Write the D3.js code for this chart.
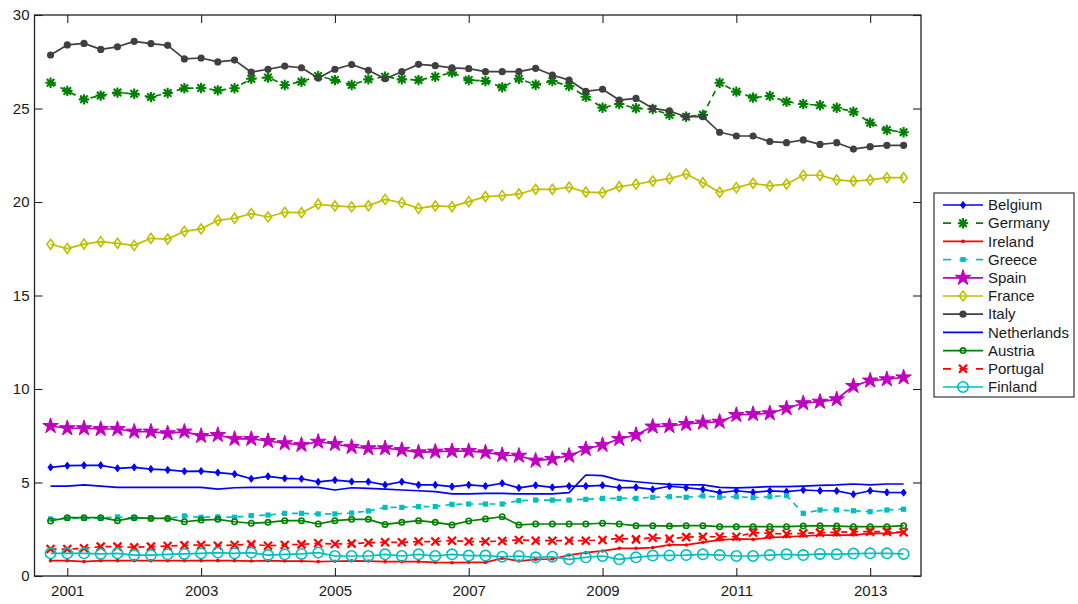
<!DOCTYPE html>
<html>
<head>
<meta charset="utf-8">
<script src="https://cdn.jsdelivr.net/npm/d3@7"></script>
<style>
  body { margin: 0; background: #fff; }
  text { font-family: "Liberation Sans", Arial, Helvetica, sans-serif; fill: #1a1a1a; }
</style>
</head>
<body>
<svg id="chart" width="1078" height="604"></svg>
<script>
// Quarterly observations, first quarter at 2000.75
const firstQuarter = 2000.75;
const xTickYears = [2001, 2003, 2005, 2007, 2009, 2011, 2013];
const yTickValues = [0, 5, 10, 15, 20, 25, 30];
const countries = ["Belgium", "Germany", "Ireland", "Greece", "Spain", "France",
                   "Italy", "Netherlands", "Austria", "Portugal", "Finland"];

const belgium = [5.81, 5.90, 5.92, 5.92, 5.76, 5.81, 5.72, 5.67, 5.60, 5.61, 5.53, 5.45, 5.20, 5.33, 5.22, 5.20, 5.03, 5.13, 5.05, 5.04, 4.87, 5.04, 4.87, 4.87, 4.78, 4.87, 4.81, 4.96, 4.71, 4.85, 4.74, 4.81, 4.81, 4.85, 4.72, 4.74, 4.63, 4.80, 4.72, 4.63, 4.46, 4.56, 4.47, 4.55, 4.51, 4.60, 4.56, 4.55, 4.37, 4.56, 4.47, 4.46];
const germany = [26.38, 25.94, 25.49, 25.69, 25.85, 25.79, 25.61, 25.83, 26.08, 26.10, 25.97, 26.08, 26.59, 26.66, 26.26, 26.43, 26.74, 26.52, 26.26, 26.56, 26.70, 26.56, 26.52, 26.70, 26.92, 26.52, 26.47, 26.13, 26.59, 26.27, 26.47, 26.20, 25.63, 25.04, 25.24, 25.01, 24.97, 24.66, 24.56, 24.66, 26.38, 25.90, 25.58, 25.67, 25.36, 25.24, 25.17, 25.04, 24.83, 24.24, 23.85, 23.73];
const ireland = [0.82, 0.82, 0.77, 0.82, 0.82, 0.82, 0.82, 0.82, 0.82, 0.82, 0.82, 0.82, 0.80, 0.82, 0.80, 0.80, 0.77, 0.79, 0.81, 0.80, 0.77, 0.77, 0.77, 0.73, 0.71, 0.73, 0.73, 0.95, 0.80, 0.89, 0.91, 1.12, 1.25, 1.34, 1.48, 1.48, 1.52, 1.66, 1.66, 1.80, 1.93, 1.98, 1.96, 2.05, 2.10, 2.14, 2.19, 2.19, 2.19, 2.28, 2.28, 2.34];
const greece = [3.05, 3.08, 3.08, 3.10, 3.16, 3.10, 3.10, 3.08, 3.21, 3.14, 3.16, 3.14, 3.23, 3.26, 3.35, 3.35, 3.32, 3.32, 3.37, 3.48, 3.67, 3.67, 3.71, 3.71, 3.83, 3.85, 3.85, 3.85, 4.03, 4.06, 4.06, 4.06, 4.10, 4.15, 4.15, 4.15, 4.21, 4.24, 4.21, 4.28, 4.21, 4.24, 4.19, 4.24, 4.30, 3.35, 3.53, 3.53, 3.49, 3.44, 3.53, 3.57];
const spain = [8.02, 7.90, 7.90, 7.86, 7.86, 7.72, 7.72, 7.63, 7.72, 7.49, 7.54, 7.33, 7.33, 7.22, 7.10, 7.01, 7.18, 7.06, 6.90, 6.83, 6.83, 6.74, 6.61, 6.65, 6.68, 6.68, 6.61, 6.47, 6.43, 6.17, 6.26, 6.43, 6.79, 7.01, 7.33, 7.54, 7.99, 8.02, 8.13, 8.20, 8.25, 8.61, 8.66, 8.70, 8.97, 9.24, 9.32, 9.45, 10.16, 10.45, 10.52, 10.62];
const france = [17.74, 17.51, 17.75, 17.88, 17.79, 17.68, 18.06, 18.02, 18.43, 18.56, 19.02, 19.13, 19.38, 19.20, 19.45, 19.43, 19.88, 19.79, 19.74, 19.80, 20.14, 19.96, 19.66, 19.79, 19.75, 20.02, 20.29, 20.34, 20.43, 20.68, 20.68, 20.79, 20.53, 20.50, 20.82, 20.95, 21.12, 21.25, 21.50, 21.03, 20.52, 20.77, 21.00, 20.86, 20.96, 21.43, 21.43, 21.18, 21.12, 21.18, 21.30, 21.30];
const italy = [27.86, 28.40, 28.48, 28.16, 28.30, 28.59, 28.47, 28.38, 27.65, 27.70, 27.49, 27.59, 26.94, 27.10, 27.27, 27.18, 26.63, 27.10, 27.35, 27.04, 26.59, 26.97, 27.36, 27.29, 27.17, 27.13, 26.97, 26.97, 26.97, 27.15, 26.79, 26.52, 25.92, 26.03, 25.45, 25.54, 25.01, 24.87, 24.56, 24.56, 23.73, 23.53, 23.53, 23.23, 23.17, 23.32, 23.08, 23.17, 22.83, 22.96, 23.03, 23.03];
const netherlands = [4.81, 4.81, 4.87, 4.81, 4.74, 4.74, 4.74, 4.74, 4.74, 4.74, 4.65, 4.72, 4.74, 4.74, 4.74, 4.74, 4.74, 4.60, 4.72, 4.69, 4.65, 4.60, 4.56, 4.51, 4.39, 4.39, 4.42, 4.42, 4.39, 4.39, 4.39, 4.46, 5.40, 5.37, 5.13, 5.04, 4.96, 4.90, 4.88, 4.87, 4.74, 4.71, 4.74, 4.78, 4.78, 4.81, 4.85, 4.87, 4.92, 4.87, 4.92, 4.92];
const austria = [2.94, 3.12, 3.12, 3.12, 2.96, 3.12, 3.08, 3.08, 2.90, 2.99, 3.03, 2.90, 2.82, 2.87, 2.96, 2.96, 2.78, 2.96, 3.03, 3.03, 2.76, 2.87, 2.96, 2.87, 2.73, 2.94, 3.05, 3.17, 2.73, 2.78, 2.78, 2.78, 2.78, 2.82, 2.78, 2.69, 2.69, 2.67, 2.69, 2.69, 2.64, 2.64, 2.64, 2.64, 2.64, 2.67, 2.69, 2.67, 2.64, 2.64, 2.64, 2.69];
const portugal = [1.44, 1.44, 1.48, 1.57, 1.57, 1.53, 1.57, 1.60, 1.64, 1.66, 1.62, 1.66, 1.69, 1.62, 1.66, 1.69, 1.75, 1.71, 1.73, 1.78, 1.80, 1.80, 1.84, 1.84, 1.89, 1.84, 1.84, 1.87, 1.93, 1.89, 1.89, 1.89, 1.89, 1.93, 2.01, 1.96, 2.05, 1.99, 2.08, 2.10, 2.10, 2.10, 2.32, 2.28, 2.25, 2.28, 2.32, 2.34, 2.37, 2.37, 2.37, 2.34];
const finland = [1.21, 1.21, 1.21, 1.18, 1.21, 1.12, 1.12, 1.16, 1.18, 1.21, 1.25, 1.21, 1.25, 1.12, 1.16, 1.18, 1.25, 1.07, 1.07, 1.07, 1.16, 1.07, 1.16, 1.07, 1.16, 1.09, 1.09, 1.03, 1.07, 1.00, 1.03, 0.89, 1.00, 1.07, 0.89, 1.00, 1.09, 1.10, 1.12, 1.16, 1.12, 1.07, 1.07, 1.12, 1.16, 1.12, 1.18, 1.16, 1.20, 1.21, 1.21, 1.18];

const seriesValues = [belgium, germany, ireland, greece, spain, france,
                      italy, netherlands, austria, portugal, finland];

// Line and marker styling per country (same order as countries)
const styles = [
  { color: "#0000ff", dash: null,  marker: "diamondFilled" },
  { color: "#008000", dash: "6,5", marker: "asterisk" },
  { color: "#ff0000", dash: null,  marker: "dot" },
  { color: "#00bfbf", dash: "6,5", marker: "square" },
  { color: "#bf00bf", dash: null,  marker: "star" },
  { color: "#bfbf00", dash: null,  marker: "diamondOpen" },
  { color: "#404040", dash: null,  marker: "circleFilled" },
  { color: "#0000ff", dash: null,  marker: null },
  { color: "#008000", dash: null,  marker: "circleSmall" },
  { color: "#ff0000", dash: "6,5", marker: "cross" },
  { color: "#00bfbf", dash: null,  marker: "circleOpen" }
];

const svg = d3.select("#chart");
const plot = { left: 34.5, right: 921, top: 15, bottom: 576 };

const x = d3.scaleLinear().domain([2000.51, 2013.76]).range([plot.left, plot.right]);
const y = d3.scaleLinear().domain([0, 30]).range([plot.bottom, plot.top]);

const lineGen = d3.line().x(d => x(d.t)).y(d => y(d.v));

function drawMarker(g, type, color, cx, cy) {
  const sw = 1.6;
  switch (type) {
    case "diamondFilled":
      g.append("path").attr("d", `M${cx},${cy-3.6}L${cx+2.5},${cy}L${cx},${cy+3.6}L${cx-2.5},${cy}Z`)
        .attr("fill", color).attr("stroke", color).attr("stroke-width", 1);
      break;
    case "diamondOpen":
      g.append("path").attr("d", `M${cx},${cy-5}L${cx+3.6},${cy}L${cx},${cy+5}L${cx-3.6},${cy}Z`)
        .attr("fill", "none").attr("stroke", color).attr("stroke-width", sw);
      break;
    case "asterisk": {
      const r = 5.2, q = r * 0.72;
      g.append("path")
        .attr("d", `M${cx-r},${cy}L${cx+r},${cy}M${cx},${cy-r}L${cx},${cy+r}` +
                   `M${cx-q},${cy-q}L${cx+q},${cy+q}M${cx-q},${cy+q}L${cx+q},${cy-q}`)
        .attr("stroke", color).attr("stroke-width", 2.1).attr("fill", "none");
      break;
    }
    case "dot":
      g.append("circle").attr("cx", cx).attr("cy", cy).attr("r", 1.8).attr("fill", color);
      break;
    case "square":
      g.append("rect").attr("x", cx - 2.6).attr("y", cy - 2.6).attr("width", 5.2).attr("height", 5.2)
        .attr("fill", color);
      break;
    case "star":
      g.append("path").attr("d", d3.symbol(d3.symbolStar, 75)())
        .attr("transform", `translate(${cx},${cy})`)
        .attr("fill", color).attr("stroke", color).attr("stroke-width", 1);
      break;
    case "circleFilled":
      g.append("circle").attr("cx", cx).attr("cy", cy).attr("r", 3.6).attr("fill", color);
      break;
    case "circleSmall":
      g.append("circle").attr("cx", cx).attr("cy", cy).attr("r", 2.7)
        .attr("fill", "none").attr("stroke", color).attr("stroke-width", sw);
      break;
    case "cross": {
      const r = 4;
      g.append("path")
        .attr("d", `M${cx-r},${cy-r}L${cx+r},${cy+r}M${cx-r},${cy+r}L${cx+r},${cy-r}`)
        .attr("stroke", color).attr("stroke-width", 2.2).attr("fill", "none");
      break;
    }
    case "circleOpen":
      g.append("circle").attr("cx", cx).attr("cy", cy).attr("r", 5.2)
        .attr("fill", "none").attr("stroke", color).attr("stroke-width", sw);
      break;
  }
}

// Series lines and markers
const plotArea = svg.append("g");
seriesValues.forEach((vals, k) => {
  const st = styles[k];
  const pts = vals.map((v, i) => ({ t: firstQuarter + i * 0.25, v }));
  const g = plotArea.append("g").attr("class", "series");
  g.append("path").datum(pts)
    .attr("d", lineGen)
    .attr("fill", "none")
    .attr("stroke", st.color)
    .attr("stroke-width", 1.7)
    .attr("stroke-linejoin", "round")
    .attr("stroke-dasharray", st.dash);
  if (st.marker) pts.forEach(p => drawMarker(g, st.marker, st.color, x(p.t), y(p.v)));
});

// Axes box with inward ticks on all four sides
const axisColor = "#222";
const tickLen = 8;
const axes = svg.append("g");
axes.append("rect")
  .attr("x", plot.left).attr("y", plot.top)
  .attr("width", plot.right - plot.left).attr("height", plot.bottom - plot.top)
  .attr("fill", "none").attr("stroke", axisColor).attr("stroke-width", 1.3);

const bottomAxis = d3.axisBottom(x).tickValues(xTickYears).tickFormat(d3.format("d"))
  .tickSizeInner(-tickLen).tickSizeOuter(0).tickPadding(9);
const topAxis = d3.axisTop(x).tickValues(xTickYears).tickFormat("")
  .tickSizeInner(-tickLen).tickSizeOuter(0);
const leftAxis = d3.axisLeft(y).tickValues(yTickValues).tickFormat(d3.format("d"))
  .tickSizeInner(-tickLen).tickSizeOuter(0).tickPadding(5);
const rightAxis = d3.axisRight(y).tickValues(yTickValues).tickFormat("")
  .tickSizeInner(-tickLen).tickSizeOuter(0);

function styleAxis(sel) {
  sel.select(".domain").remove();
  sel.selectAll(".tick line").attr("stroke", axisColor).attr("stroke-width", 1.1);
  sel.selectAll(".tick text").attr("font-size", 15).attr("fill", "#1a1a1a")
    .style("font-family", '"Liberation Sans", Arial, sans-serif');
}
axes.append("g").attr("transform", `translate(0,${plot.bottom})`).call(bottomAxis).call(styleAxis);
axes.append("g").attr("transform", `translate(0,${plot.top})`).call(topAxis).call(styleAxis);
axes.append("g").attr("transform", `translate(${plot.left},0)`).call(leftAxis).call(styleAxis);
axes.append("g").attr("transform", `translate(${plot.right},0)`).call(rightAxis).call(styleAxis);

// Legend
const legend = svg.append("g");
const lg = { x: 934, y: 193, w: 140, h: 204, row: 18.2, first: 205 };
legend.append("rect").attr("x", lg.x).attr("y", lg.y).attr("width", lg.w).attr("height", lg.h)
  .attr("fill", "#fff").attr("stroke", axisColor).attr("stroke-width", 1.1);
countries.forEach((name, k) => {
  const st = styles[k];
  const cy = lg.first + k * lg.row;
  const row = legend.append("g");
  row.append("line").attr("x1", 943).attr("x2", 983).attr("y1", cy).attr("y2", cy)
    .attr("stroke", st.color).attr("stroke-width", 1.7)
    .attr("stroke-dasharray", st.dash ? "8,8.5" : null);
  if (st.marker) drawMarker(row, st.marker, st.color, 963, cy);
  row.append("text").attr("x", 988).attr("y", cy).attr("dy", "0.35em")
    .attr("font-size", 15).text(name);
});
</script>
</body>
</html>
